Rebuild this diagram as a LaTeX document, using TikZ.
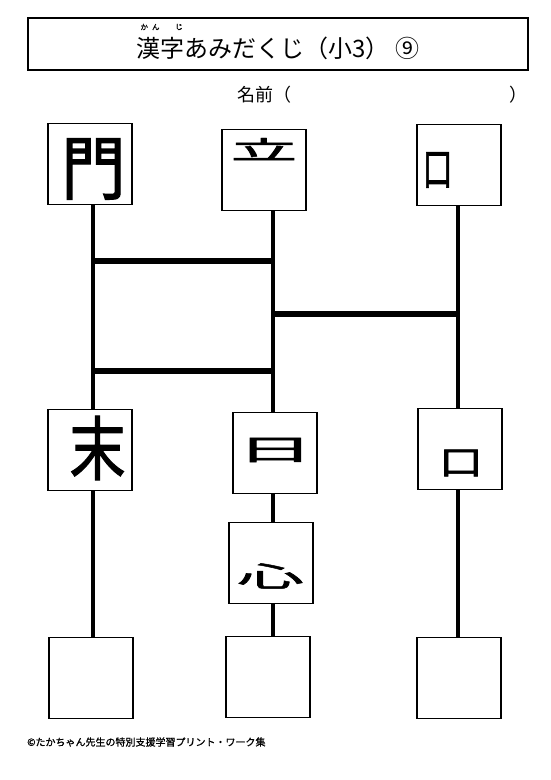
\documentclass[tikz,border=0pt]{standalone}
\usepackage{fontspec}
\setmainfont{Noto Sans CJK JP}
\newfontfamily\partfont[FakeBold=1.6]{Noto Sans CJK JP}
\newfontfamily\notefont[FakeBold=1.0]{Noto Sans CJK JP}
\usetikzlibrary{positioning, backgrounds, calc}
\newcommand{\fsz}[1]{\fontsize{#1}{#1}\selectfont}
\tikzset{
    headbox/.style={rectangle, draw=black, line width=1.2pt, minimum width=500pt, minimum height=52pt, inner sep=0pt},
    card/.style={rectangle, draw=black, line width=1.3pt, fill=white, minimum width=84pt, minimum height=81pt, inner sep=0pt},
    part/.style={inner sep=0pt, font=\fsz{70}\partfont},
    rail/.style={line width=4.6pt},
    rung/.style={line width=6.5pt}
}

\begin{document}
\begin{tikzpicture}[x=1pt, y=-1pt]
    \useasboundingbox (0,0) rectangle (551,780);

    % header
    \node [headbox] (head) at (278,44) {};
    \node [font=\fsz{24}, inner sep=0pt] (title) at (278,48) {漢字あみだくじ（小3）\ ⑨};
    \node [font=\fsz{7.5}\notefont, inner sep=0pt] (rubyA) at (150,27) {か\hspace{4pt}ん};
    \node [font=\fsz{7.5}\notefont, inner sep=0pt] (rubyB) at (179,27) {じ};
    \node [font=\fsz{18}, inner sep=0pt, anchor=west] (name) at (237,95) {名前（};
    \node [font=\fsz{18}, inner sep=0pt, anchor=west] (close) at (509,95) {）};

    % cards
    \node [card] (topA) at (90,164) {};
    \node [card] (topB) at (264,170) {};
    \node [card] (topC) at (459,165) {};
    \node [card] (midA) at (90,450) {};
    \node [card] (midB) at (275,453) {};
    \node [card] (midC) at (460,449) {};
    \node [card] (heart) at (271,563) {};
    \node [card] (endA) at (91,678) {};
    \node [card] (endB) at (268,677) {};
    \node [card] (endC) at (459,678) {};

    % kanji parts
    \node [part] (pMon) at (93.5,169) {\scalebox{0.92}[1]{門}};
    \node [part] (pTatsu) at (264,149) {\scalebox{0.95}[0.36]{立}};
    \node [part] (pKuchiA) at (437.5,170) {\scalebox{0.5}[0.75]{\fsz{60}口}};
    \node [part] (pMatsu) at (97.5,448) {\scalebox{0.8}[1]{末}};
    \node [part] (pHi) at (275,450) {\scalebox{1.6}[0.6]{\fsz{48}日}};
    \node [part] (pKuchiB) at (461,463) {\scalebox{1.1}[0.85]{\fsz{40}口}};
    \node [part] (pKokoro) at (270.5,576) {\scalebox{0.95}[0.4]{心}};

    % rails and rungs
    \coordinate (railA) at (93,0);
    \coordinate (railB) at (273,0);
    \coordinate (railC) at (458,0);
    \begin{scope}[on background layer]
        \draw [rail] (railA |- topA.south) -- (railA |- endA.north);
        \draw [rail] (railB |- topB.south) -- (railB |- endB.north);
        \draw [rail] (railC |- topC.south) -- (railC |- endC.north);
        \draw [rung] (railA |- 0,261) -- (railB |- 0,261);
        \draw [rung] (railB |- 0,314) -- (railC |- 0,314);
        \draw [rung] (railA |- 0,371) -- (railB |- 0,371);
    \end{scope}

    % footer
    \node [font=\fsz{10}\notefont, inner sep=0pt, anchor=west] (credit) at (27,742) {©たかちゃん先生の特別支援学習プリント・ワーク集};
\end{tikzpicture}
\end{document}
